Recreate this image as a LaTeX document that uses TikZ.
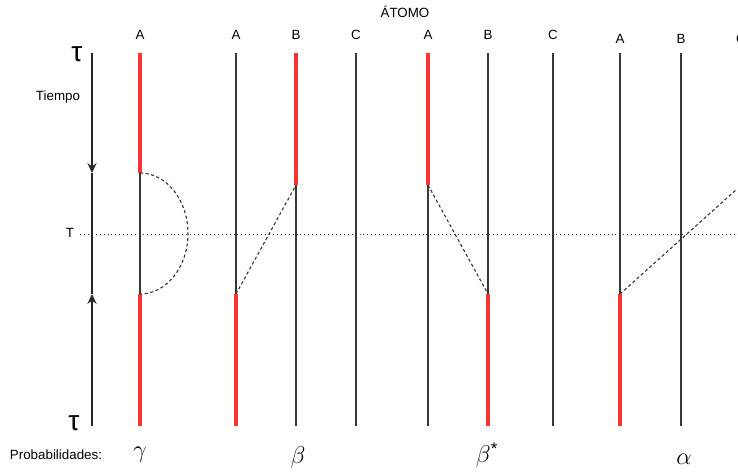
\documentclass[tikz,border=0pt]{standalone}
\usepackage{fontspec}
\setmainfont{Liberation Sans}
\usepackage{amsmath}
\usetikzlibrary{arrows.meta,calc}
\definecolor{wlred}{RGB}{250,52,52}
\definecolor{wlgray}{RGB}{55,55,55}
\tikzset{
  wline/.style={draw=wlgray,line width=0.8pt},
  rline/.style={draw=wlred,line width=2.2pt},
  jumpline/.style={draw=wlgray,line width=0.8pt,dash pattern=on 2.2pt off 1.8pt},
  tline/.style={draw=wlgray,line width=0.7pt,dash pattern=on 0.7pt off 2.1pt},
  taxis/.style={draw=black!85,line width=0.8pt},
  taxisarr/.style={taxis,-{Stealth[length=7pt,width=6.5pt]}},
  atomlbl/.style={font=\fontsize{9.5}{9.5}\selectfont,inner sep=0pt},
  sidelbl/.style={font=\fontsize{9.5}{9.5}\selectfont,inner sep=0pt},
  taulbl/.style={font=\fontsize{20}{20}\selectfont,inner sep=0pt},
  problbl/.style={font=\fontsize{16}{16}\selectfont,inner sep=0pt}
}

\begin{document}
\begin{tikzpicture}[x=0.025cm,y=-0.025cm]
  \useasboundingbox (0,0) rectangle (738,474);

  %% time axis
  \coordinate (ttop) at (92,53);
  \coordinate (tdown) at (92,173);
  \coordinate (tup) at (92,294);
  \coordinate (tbot) at (92,426);
  \draw[taxisarr] (ttop) -- (tdown);
  \draw[taxis] (tdown) -- (tup);
  \draw[taxisarr] (tbot) -- (tup);
  \node[taulbl] (tautop) at (77,54) {τ};
  \node[taulbl] (taubot) at (74,423) {τ};
  \node[sidelbl] (tiempo) at (58,97) {Tiempo};
  \node[sidelbl] (tlbl) at (70,233) {T};
  \node[atomlbl] (atomo) at (405,12) {ÁTOMO};
  \node[sidelbl,font=\fontsize{9.5}{9.5}\selectfont] (prob) at (56,455) {Probabilidades:};

  %% dotted line at T
  \coordinate (tl) at (80,234);
  \coordinate (tr) at (738,234);
  \draw[tline] (tl) -- (tr);

  %% gamma
  \node[atomlbl] (gA) at (140,35) {A};
  \coordinate (gAt) at (140,53);
  \coordinate (gA1) at (140,173);
  \coordinate (gA2) at (140,294);
  \coordinate (gAb) at (140,426);
  \coordinate (gmid) at (188,233.5);
  \draw[wline] (gA1) -- (gA2);
  \draw[rline] (gAt) -- (gA1);
  \draw[rline] (gA2) -- (gAb);
  \draw[jumpline] (gA1) .. controls +(26.5,0) and +(0,-33.4) .. (gmid)
    .. controls +(0,33.4) and +(26.5,0) .. (gA2);
  \node[problbl] (pgamma) at (140,455) {$\gamma$};

  %% beta
  \node[atomlbl] (bA) at (236,35) {A};
  \node[atomlbl] (bB) at (296,35) {B};
  \node[atomlbl] (bC) at (356,35) {C};
  \coordinate (bAt) at (236,53);
  \coordinate (bA2) at (236,294);
  \coordinate (bAb) at (236,426);
  \coordinate (bBt) at (296,53);
  \coordinate (bB1) at (296,185);
  \coordinate (bBb) at (296,426);
  \coordinate (bCt) at (356,53);
  \coordinate (bCb) at (356,426);
  \draw[wline] (bAt) -- (bA2);
  \draw[rline] (bA2) -- (bAb);
  \draw[rline] (bBt) -- (bB1);
  \draw[wline] (bB1) -- (bBb);
  \draw[wline] (bCt) -- (bCb);
  \draw[jumpline] (bA2) -- (bB1);
  \node[problbl] (pbeta) at (298,457) {$\beta$};

  %% beta*
  \node[atomlbl] (sA) at (428,35) {A};
  \node[atomlbl] (sB) at (488,35) {B};
  \node[atomlbl] (sC) at (553,35) {C};
  \coordinate (sAt) at (428,53);
  \coordinate (sA1) at (428,185);
  \coordinate (sAb) at (428,426);
  \coordinate (sBt) at (488,53);
  \coordinate (sB2) at (488,294);
  \coordinate (sBb) at (488,426);
  \coordinate (sCt) at (553,53);
  \coordinate (sCb) at (553,426);
  \draw[rline] (sAt) -- (sA1);
  \draw[wline] (sA1) -- (sAb);
  \draw[wline] (sBt) -- (sB2);
  \draw[rline] (sB2) -- (sBb);
  \draw[wline] (sCt) -- (sCb);
  \draw[jumpline] (sA1) -- (sB2);
  \node[problbl] (pbetas) at (487,455) {$\beta^{\text{\fontsize{12}{12}\selectfont*}}$};

  %% alpha
  \node[atomlbl] (aA) at (620,39) {A};
  \node[atomlbl] (aB) at (681,39) {B};
  \node[atomlbl] (aC) at (741,39) {C};
  \coordinate (aAt) at (620,53);
  \coordinate (aA2) at (620,294);
  \coordinate (aAb) at (620,426);
  \coordinate (aBt) at (681,53);
  \coordinate (aBb) at (681,426);
  \coordinate (aend) at (737,189);
  \draw[wline] (aAt) -- (aA2);
  \draw[rline] (aA2) -- (aAb);
  \draw[wline] (aBt) -- (aBb);
  \draw[jumpline] (aA2) -- (aend);
  \node[problbl] (palpha) at (684,459) {$\alpha$};
\end{tikzpicture}
\end{document}
